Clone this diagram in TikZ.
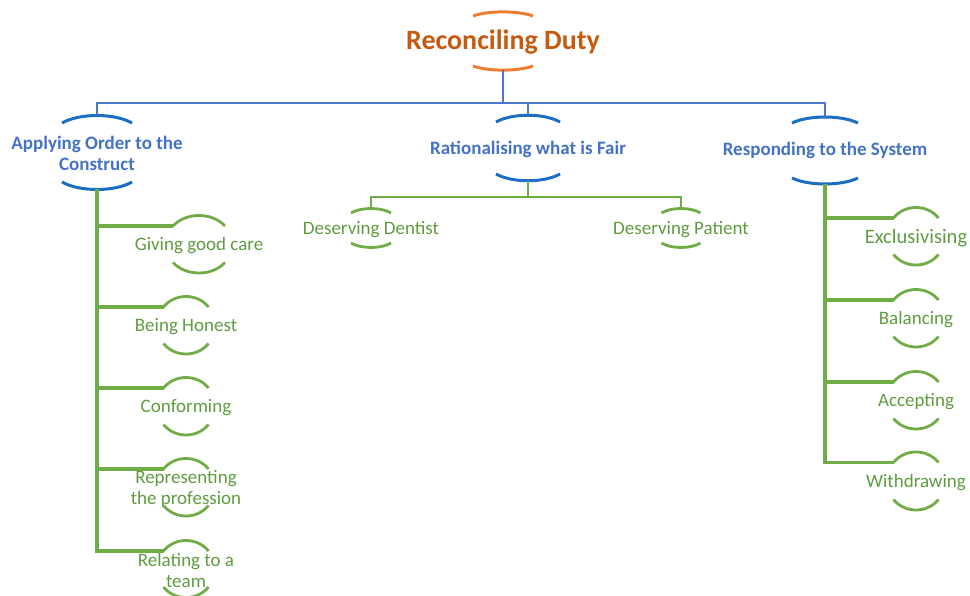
\documentclass[tikz,border=0pt]{standalone}
\usepackage{fontspec}
\setmainfont{Carlito}
\definecolor{dutytextcol}{HTML}{C55A11}
\definecolor{dutyarccol}{HTML}{ED7D31}
\definecolor{themetextcol}{HTML}{4472C4}
\definecolor{themearccol}{HTML}{1B6EC2}
\definecolor{themelinecol}{HTML}{4A78CC}
\definecolor{subtextcol}{HTML}{5E9C3F}
\definecolor{sublinecol}{HTML}{70AD47}
\tikzset{
  duty/.style={font=\fontsize{28}{30}\selectfont\bfseries, text=dutytextcol},
  theme/.style={font=\fontsize{19}{21}\selectfont\bfseries, text=themetextcol, align=center},
  sub/.style={font=\fontsize{19}{21}\selectfont, text=subtextcol, align=center},
  dutyarc/.style={draw=dutyarccol, line width=3pt},
  themearc/.style={draw=themearccol, line width=3pt},
  themeline/.style={draw=themelinecol, line width=1.6pt},
  subarc/.style={draw=sublinecol, line width=2.8pt},
  subbranch/.style={draw=sublinecol, line width=1.8pt},
  stem/.style={draw=sublinecol, line width=3.2pt},
}
\begin{document}
\begin{tikzpicture}[x=1pt,y=-1pt]
\useasboundingbox (0,0) rectangle (970,596);

\node[duty] (duty) at (503,42) {Reconciling Duty};

\node[theme] (order) at (97,153.5) {Applying Order to the\\Construct};
\node[theme] (fair) at (528,149) {Rationalising what is Fair};
\node[theme] (system) at (825,150) {Responding to the System};

\node[sub] (dentist) at (371,230) {Deserving Dentist};
\node[sub] (patient) at (681,230) {Deserving Patient};

\node[sub] (care) at (199,246) {Giving good care};
\node[sub] (honest) at (186,327) {Being Honest};
\node[sub] (conform) at (186,408) {Conforming};
\node[sub] (represent) at (186,489) {Representing\\the profession};
\node[sub] (team) at (186,570.5) {Relating to a\\team};

\node[sub, font=\fontsize{20.5}{22}\selectfont] (exclus) at (916,238) {Exclusivising};
\node[sub] (balance) at (916,320) {Balancing};
\node[sub] (accept) at (916,402) {Accepting};
\node[sub] (withdraw) at (916,483) {Withdrawing};

% arcs: name/half width/top gap/bottom gap/handle
\foreach \n/\w/\t/\b/\h/\s in {duty/30/26/24/5.5/dutyarc,
    order/35/30.5/28.5/10/themearc, fair/32/27/25/9/themearc, system/33/27/28/8/themearc,
    dentist/20/17/13/6/subarc, patient/19.5/17/13/6/subarc,
    care/26/20/16.5/14/subarc, honest/22.5/20/16.5/14/subarc, conform/22.5/20/16.5/14/subarc,
    represent/22.5/20/16.5/14/subarc, team/22.5/19.5/16.5/14/subarc,
    exclus/22.5/20/16.5/14/subarc, balance/22.5/20/16.5/14/subarc,
    accept/22.5/20/16.5/14/subarc, withdraw/22.5/20.5/16.5/14/subarc} {
  \draw[\s] ([shift={(-\w,-\t)}]\n.center) coordinate (\n-join)
    .. controls +(0.5*\w,-\h) and +(-0.5*\w,-\h) .. ([shift={(\w,-\t)}]\n.center);
  \draw[\s] ([shift={(-\w,\b)}]\n.center)
    .. controls +(0.5*\w,\h) and +(-0.5*\w,\h) .. ([shift={(\w,\b)}]\n.center);
  \coordinate (\n-top) at ([shift={(0,-\t-0.75*\h)}]\n.center);
  \coordinate (\n-bot) at ([shift={(0,\b+0.75*\h)}]\n.center);
}

% connectors
\coordinate (bar) at (0,103);
\coordinate (fairbar) at (0,197);
\draw[themeline] (duty-bot) -- (duty-bot |- bar);
\draw[themeline] (order-top) |- (bar -| system-top) -- (system-top);
\draw[themeline] (fair-top) -- (fair-top |- bar);

\draw[subbranch] (fair-bot) -- (fair-bot |- fairbar);
\draw[subbranch] (dentist-top) |- (fairbar -| patient-top) -- (patient-top);

\foreach \n in {care,honest,conform,represent,team}
  \draw[stem] (order-bot) |- (\n-join);
\foreach \n in {exclus,balance,accept,withdraw}
  \draw[stem] (system-bot) |- (\n-join);
\end{tikzpicture}
\end{document}
